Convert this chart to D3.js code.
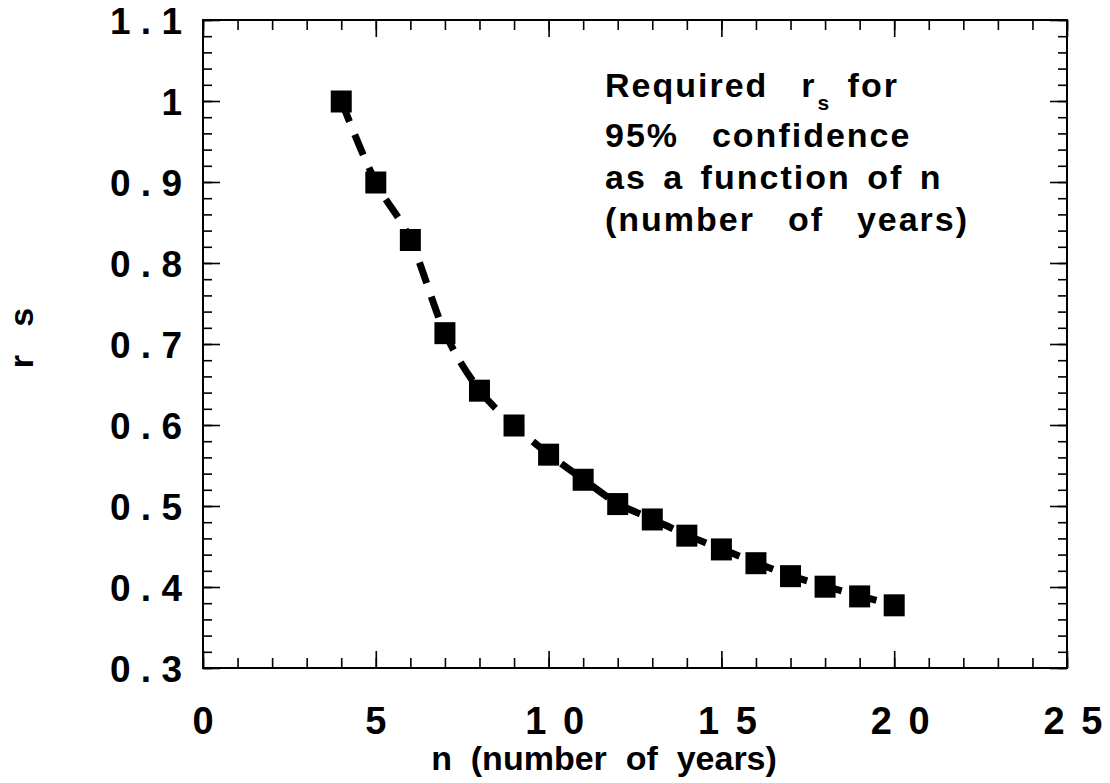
<!DOCTYPE html>
<html lang="en">
<head>
  <meta charset="UTF-8">
  <title>Required rs for 95% confidence</title>
  <style>
    body { margin: 0; background: #fff; }
    text { font-family: "Liberation Sans", Arial, sans-serif; font-weight: bold; fill: #000; }
  </style>
</head>
<body>
  <script src="https://cdn.jsdelivr.net/npm/d3@7/dist/d3.min.js"></script>
  <script>
    // data: n (years) and the required Spearman r_s
    let nValues = [4, 5, 6, 7, 8, 9, 10, 11, 12, 13, 14, 15, 16, 17, 18, 19, 20];
    let rsValues = [1.0, 0.9, 0.829, 0.714, 0.643, 0.600, 0.564, 0.533, 0.503, 0.484, 0.464, 0.447, 0.430, 0.414, 0.401, 0.389, 0.378];
    let xTicks = [0, 5, 10, 15, 20, 25];
    let yTicks = [0.3, 0.4, 0.5, 0.6, 0.7, 0.8, 0.9, 1, 1.1];
    let noteLines = ["95%  confidence", "as a function of n", "(number  of  years)"];

    let width = 1110, height = 783;
    let mLeft = 203, mRight = 1067, mTop = 20, mBottom = 668;

    let svg = d3.select("body").append("svg")
      .attr("width", width)
      .attr("height", height);

    let x = d3.scaleLinear().domain([0, 25]).range([mLeft, mRight]);
    let y = d3.scaleLinear().domain([0.3, 1.1]).range([mBottom, mTop]);

    let spaced = d => String(d).split("").join(" ");
    let minorX = d3.range(0, 25.01, 1);
    let minorY = d3.range(0.3, 1.1001, 0.02);

    function styleAxis(g) {
      g.select(".domain").remove();
      g.selectAll("line").attr("stroke", "#000").attr("stroke-width", 1.6);
    }

    // minor ticks (inward) on all four sides
    svg.append("g").attr("transform", `translate(0,${mBottom})`)
      .call(d3.axisBottom(x).tickValues(minorX).tickSize(-10).tickFormat(""))
      .call(styleAxis);
    svg.append("g").attr("transform", `translate(0,${mTop})`)
      .call(d3.axisTop(x).tickValues(minorX).tickSize(-10).tickFormat(""))
      .call(styleAxis);
    svg.append("g").attr("transform", `translate(${mLeft},0)`)
      .call(d3.axisLeft(y).tickValues(minorY).tickSize(-9).tickFormat(""))
      .call(styleAxis);
    svg.append("g").attr("transform", `translate(${mRight},0)`)
      .call(d3.axisRight(y).tickValues(minorY).tickSize(-9).tickFormat(""))
      .call(styleAxis);

    // major ticks with labels
    let xAxis = svg.append("g").attr("transform", `translate(0,${mBottom})`)
      .call(d3.axisBottom(x).tickValues(xTicks).tickSize(-17).tickFormat(spaced))
      .call(styleAxis);
    xAxis.selectAll("text")
      .style("font-size", "38px")
      .style("letter-spacing", "3px")
      .attr("y", 39)
      .attr("dy", "0.71em")
      .attr("dx", d => d >= 10 ? 7 : 1);
    svg.append("g").attr("transform", `translate(0,${mTop})`)
      .call(d3.axisTop(x).tickValues(xTicks).tickSize(-17).tickFormat(""))
      .call(styleAxis);
    let yAxis = svg.append("g").attr("transform", `translate(${mLeft},0)`)
      .call(d3.axisLeft(y).tickValues(yTicks).tickSize(-17).tickPadding(21).tickFormat(spaced))
      .call(styleAxis);
    yAxis.selectAll("text").style("font-size", "37px").attr("dy", "0.36em");
    svg.append("g").attr("transform", `translate(${mRight},0)`)
      .call(d3.axisRight(y).tickValues(yTicks).tickSize(-17).tickFormat(""))
      .call(styleAxis);

    // frame
    svg.append("rect")
      .attr("x", mLeft).attr("y", mTop)
      .attr("width", mRight - mLeft).attr("height", mBottom - mTop)
      .attr("fill", "none").attr("stroke", "#000").attr("stroke-width", 2);

    // dashed curve
    let points = nValues.map((n, i) => [n, rsValues[i]]);
    let line = d3.line().x(d => x(d[0])).y(d => y(d[1])).curve(d3.curveMonotoneX);
    svg.append("path")
      .datum(points)
      .attr("d", line)
      .attr("fill", "none")
      .attr("stroke", "#000")
      .attr("stroke-width", 7)
      .attr("stroke-dasharray", "22,14");

    // square markers
    let sq = 21;
    svg.selectAll("rect.pt")
      .data(points)
      .enter()
      .append("rect")
      .attr("class", "pt")
      .attr("x", d => x(d[0]) - sq / 2)
      .attr("y", d => y(d[1]) - sq / 2)
      .attr("width", sq)
      .attr("height", sq + 1)
      .attr("fill", "#000");

    // annotation
    let noteStyle = sel => sel
      .style("font-size", "34px")
      .style("letter-spacing", "2px")
      .style("word-spacing", "5px")
      .style("white-space", "pre");
    let note = svg.append("text")
      .attr("x", 605).attr("y", 97)
      .call(noteStyle);
    note.append("tspan").text("Required  r");
    note.append("tspan").attr("dx", 1).attr("dy", 13).style("font-size", "21px").text("s");
    note.append("tspan").attr("dy", -13).text(" for");
    svg.selectAll("text.note")
      .data(noteLines)
      .enter()
      .append("text")
      .attr("class", "note")
      .attr("x", 605)
      .attr("y", (d, i) => 147 + i * 42)
      .call(noteStyle)
      .text(d => d);

    // axis titles
    svg.append("text")
      .attr("x", 604).attr("y", 770)
      .attr("text-anchor", "middle")
      .style("font-size", "34px")
      .style("white-space", "pre")
      .text("n  (number  of  years)");
    svg.append("text")
      .attr("transform", "translate(33,338) rotate(-90)")
      .attr("text-anchor", "middle")
      .style("font-size", "34px")
      .style("white-space", "pre")
      .text("r   s");
  </script>
</body>
</html>
